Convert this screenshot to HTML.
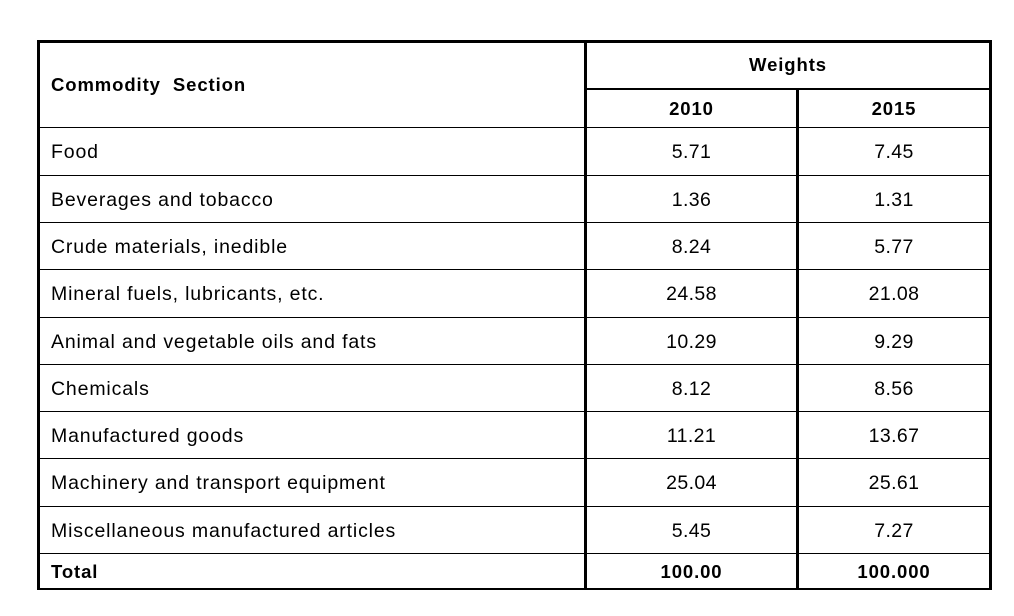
<!DOCTYPE html><html><head><style>
body{margin:0;width:1014px;height:616px;background:#fff;position:relative;font-family:"Liberation Sans",Arial,sans-serif;color:#000;overflow:hidden}
.l{position:absolute;background:#000}
.t{position:absolute;font-size:19.5px;line-height:20px;white-space:nowrap;letter-spacing:0.85px}
.c{text-align:center;letter-spacing:0.4px}
.b{font-weight:bold;font-size:18.5px;letter-spacing:0.9px}
</style></head><body>
<div class="l" style="left:37px;top:40px;width:955px;height:3px"></div>
<div class="l" style="left:37px;top:40px;width:3px;height:550px"></div>
<div class="l" style="left:989px;top:40px;width:3px;height:550px"></div>
<div class="l" style="left:584px;top:40px;width:3px;height:550px"></div>
<div class="l" style="left:796px;top:89px;width:3px;height:501px"></div>
<div class="l" style="left:584px;top:88px;width:408px;height:2px"></div>
<div class="l" style="left:37px;top:588px;width:955px;height:2px"></div>
<div class="l" style="left:37px;top:127px;width:955px;height:1px"></div>
<div class="l" style="left:37px;top:175px;width:955px;height:1px"></div>
<div class="l" style="left:37px;top:222px;width:955px;height:1px"></div>
<div class="l" style="left:37px;top:269px;width:955px;height:1px"></div>
<div class="l" style="left:37px;top:317px;width:955px;height:1px"></div>
<div class="l" style="left:37px;top:364px;width:955px;height:1px"></div>
<div class="l" style="left:37px;top:411px;width:955px;height:1px"></div>
<div class="l" style="left:37px;top:458px;width:955px;height:1px"></div>
<div class="l" style="left:37px;top:506px;width:955px;height:1px"></div>
<div class="l" style="left:37px;top:553px;width:955px;height:1px"></div>

<div class="t b" style="left:51px;top:75px">Commodity&nbsp; Section</div>
<div class="t b c" style="left:587px;width:402px;top:55px">Weights</div>
<div class="t b c" style="left:587px;width:209px;top:99px">2010</div>
<div class="t b c" style="left:799px;width:190px;top:99px">2015</div>

<div class="t" style="left:51px;top:142px">Food</div>
<div class="t c" style="left:587px;width:209px;top:142px">5.71</div>
<div class="t c" style="left:799px;width:190px;top:142px">7.45</div>
<div class="t" style="left:51px;top:190px">Beverages and tobacco</div>
<div class="t c" style="left:587px;width:209px;top:190px">1.36</div>
<div class="t c" style="left:799px;width:190px;top:190px">1.31</div>
<div class="t" style="left:51px;top:237px">Crude materials, inedible</div>
<div class="t c" style="left:587px;width:209px;top:237px">8.24</div>
<div class="t c" style="left:799px;width:190px;top:237px">5.77</div>
<div class="t" style="left:51px;top:284px">Mineral fuels, lubricants, etc.</div>
<div class="t c" style="left:587px;width:209px;top:284px">24.58</div>
<div class="t c" style="left:799px;width:190px;top:284px">21.08</div>
<div class="t" style="left:51px;top:332px">Animal and vegetable oils and fats</div>
<div class="t c" style="left:587px;width:209px;top:332px">10.29</div>
<div class="t c" style="left:799px;width:190px;top:332px">9.29</div>
<div class="t" style="left:51px;top:379px">Chemicals</div>
<div class="t c" style="left:587px;width:209px;top:379px">8.12</div>
<div class="t c" style="left:799px;width:190px;top:379px">8.56</div>
<div class="t" style="left:51px;top:426px">Manufactured goods</div>
<div class="t c" style="left:587px;width:209px;top:426px">11.21</div>
<div class="t c" style="left:799px;width:190px;top:426px">13.67</div>
<div class="t" style="left:51px;top:473px">Machinery and transport equipment</div>
<div class="t c" style="left:587px;width:209px;top:473px">25.04</div>
<div class="t c" style="left:799px;width:190px;top:473px">25.61</div>
<div class="t" style="left:51px;top:521px">Miscellaneous manufactured articles</div>
<div class="t c" style="left:587px;width:209px;top:521px">5.45</div>
<div class="t c" style="left:799px;width:190px;top:521px">7.27</div>
<div class="t b" style="left:51px;top:562px">Total</div>
<div class="t b c" style="left:587px;width:209px;top:562px">100.00</div>
<div class="t b c" style="left:799px;width:190px;top:562px">100.000</div>
</body></html>
